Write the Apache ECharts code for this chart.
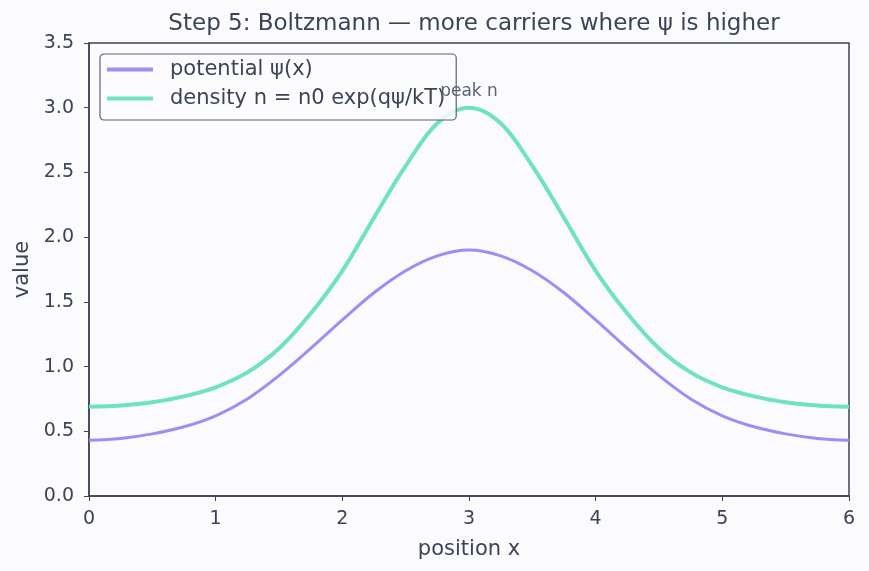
<!DOCTYPE html>
<html>
<head>
<meta charset="utf-8">
<script src="https://cdn.jsdelivr.net/npm/echarts@6/dist/echarts.min.js"></script>
<style>
  html, body { margin: 0; padding: 0; background: #fbfbfe; }
  #chart { width: 869px; height: 571px; }
</style>
</head>
<body>
<div id="chart"></div>
<script>
// position x
var xs = [0, 0.25, 0.5, 0.75, 1, 1.25, 1.5, 1.75, 2, 2.25, 2.5, 2.75, 3,
          3.25, 3.5, 3.75, 4, 4.25, 4.5, 4.75, 5, 5.25, 5.5, 5.75, 6];
// potential psi(x)
var psi = [0.43, 0.445, 0.48, 0.535, 0.62, 0.75, 0.93, 1.14, 1.36, 1.57, 1.74, 1.855, 1.90,
           1.855, 1.74, 1.57, 1.36, 1.14, 0.93, 0.75, 0.62, 0.535, 0.48, 0.445, 0.43];
// density n
var dens = [0.69, 0.70, 0.725, 0.77, 0.84, 0.955, 1.14, 1.41, 1.74, 2.15, 2.55, 2.88, 3.0,
            2.88, 2.55, 2.15, 1.74, 1.41, 1.14, 0.955, 0.84, 0.77, 0.725, 0.70, 0.69];
var yTicks = [0, 0.5, 1, 1.5, 2, 2.5, 3, 3.5];

var ink = '#3b4456';
var font = 'DejaVu Sans';

function pairs(ys) {
    return xs.map(function (x, i) { return [x, ys[i]]; });
}

var myChart = echarts.init(document.getElementById('chart'));
var option = {
    backgroundColor: '#fbfbfe',
    textStyle: { fontFamily: font },
    title: {
        text: 'Step 5: Boltzmann — more carriers where ψ is higher',
        left: 469,
        textAlign: 'center',
        top: 8,
        textStyle: { fontFamily: font, fontSize: 23, fontWeight: 'normal', color: ink }
    },
    legend: {
        orient: 'vertical',
        left: 100,
        top: 54,
        padding: [5, 11, 11, 7],
        itemGap: 8,
        itemWidth: 46,
        itemHeight: 4,
        icon: 'rect',
        backgroundColor: 'rgba(251,251,254,0.85)',
        borderColor: '#5b6170',
        borderWidth: 1.2,
        borderRadius: 4,
        textStyle: { fontFamily: font, fontSize: 21, color: ink, padding: [0, 0, 0, 12] },
        data: ['potential ψ(x)', 'density n = n0 exp(qψ/kT)']
    },
    grid: {
        left: 89,
        right: 20,
        top: 43,
        bottom: 75,
        show: true,
        borderColor: ink,
        borderWidth: 1.5,
        backgroundColor: '#fbfbfe'
    },
    xAxis: {
        type: 'value',
        min: 0,
        max: 6,
        interval: 1,
        name: 'position x',
        nameLocation: 'middle',
        nameGap: 43,
        nameTextStyle: { fontFamily: font, fontSize: 21, color: ink },
        axisLine: { show: true, lineStyle: { color: ink, width: 1.5 } },
        axisTick: { show: true, length: 5, lineStyle: { color: ink } },
        axisLabel: { fontFamily: font, fontSize: 19, color: ink, margin: 14 },
        splitLine: { show: false }
    },
    yAxis: {
        type: 'value',
        min: 0,
        max: 3.5,
        interval: 0.5,
        name: 'value',
        nameLocation: 'middle',
        nameGap: 54,
        nameTextStyle: { fontFamily: font, fontSize: 21, color: ink },
        axisLine: { show: true, lineStyle: { color: ink, width: 1.5 } },
        axisTick: { show: true, length: 5, lineStyle: { color: ink } },
        axisLabel: {
            fontFamily: font, fontSize: 19, color: ink, margin: 15,
            formatter: function (v) { return yTicks.indexOf(v) >= 0 ? v.toFixed(1) : ''; }
        },
        splitLine: { show: false }
    },
    series: [
        {
            name: 'potential ψ(x)',
            type: 'line',
            data: pairs(psi),
            smooth: 0.35,
            showSymbol: false,
            color: '#a08cf2',
            lineStyle: { width: 3, color: '#a08cf2' }
        },
        {
            name: 'density n = n0 exp(qψ/kT)',
            type: 'line',
            data: pairs(dens),
            smooth: 0.35,
            showSymbol: false,
            color: '#6ee3bd',
            lineStyle: { width: 4, color: '#6ee3bd' },
            markPoint: {
                symbol: 'circle',
                symbolSize: 0,
                label: {
                    show: true,
                    position: 'top',
                    distance: 8,
                    formatter: 'peak n',
                    fontFamily: font,
                    fontSize: 17,
                    color: '#5b6270'
                },
                data: [{ coord: [3, 3.0] }]
            }
        }
    ]
};
myChart.setOption(option);
</script>
</body>
</html>
